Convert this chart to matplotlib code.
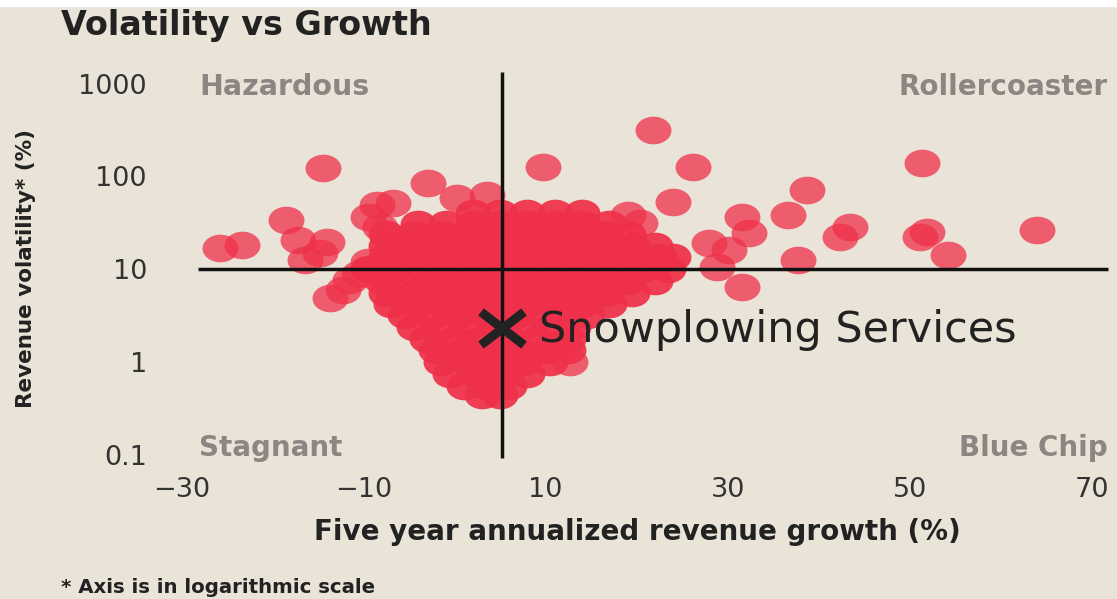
import matplotlib
matplotlib.use('Agg')
import matplotlib.pyplot as plt
from matplotlib.path import Path
from matplotlib.ticker import NullLocator

# scattered companies (growth %, volatility %)
outlier_growth = [-25.8, -23.4, -14.5, -18.5, -17.2, -14.0, -16.4, -14.8, -13.7, -12.3,
                  -11.5, -2.9, -8.5, -6.8, 0.3, 3.6, -8.2, -9.5, -10.5, -9.5,
                  9.7, 21.8, 26.2, 24.0, 20.4, 19.0, 12.7,
                  31.6, 32.4, 28.0, 30.2, 28.8, 31.6, 38.7, 36.6, 43.4, 42.3, 37.7,
                  51.4, 51.9, 51.1, 54.2, 64.0]
outlier_vol = [17.0, 18.3, 123, 34, 20.7, 19.7, 12.6, 15.0, 4.9, 6.0,
               7.7, 85, 49, 52, 59, 63, 28.6, 36.6, 9.0, 12.0,
               127, 317, 127, 53, 31.5, 38.5, 1.0,
               36.6, 24.7, 19.2, 16.2, 10.6, 6.5, 72, 38.5, 28.6, 22.3, 12.6,
               140, 25.3, 22.3, 14.3, 26.5]

# dense core of companies, one row per volatility level
core_growth = [2, 5, 8, 11, 14,
               -4, -1, 2, 5, 8, 11, 14, 17,
               -7.5, -4.5, -1.5, 1.5, 4.5, 7.5, 10.5, 13.5, 16.5, 19,
               -7.5, -4.5, -1.5, 1.5, 4.5, 7.5, 10.5, 13.5, 16.5, 19.5, 22,
               -7.5, -4.5, -1.5, 1.5, 4.5, 7.5, 10.5, 13.5, 16.5, 19.5, 22.5, 24,
               -9.5, -6.5, -3.5, -0.5, 2.5, 5.5, 8.5, 11.5, 14.5, 17.5, 20.5, 23.5,
               -8, -5, -2, 1, 4, 7, 10, 13, 16, 19, 22,
               -7.5, -4.5, -1.5, 1.5, 4.5, 7.5, 10.5, 13.5, 16.5, 19.5,
               -7, -4, -1, 2, 5, 8, 11, 14, 17,
               -5.5, -2.5, 0.5, 3.5, 6.5, 9.5, 12.5, 14.5,
               -4.5, -1.5, 1.5, 4.5, 7.5, 10.5, 13,
               -3, 0, 3, 6, 9, 12.5,
               -2, 1, 4, 7, 10, 12.5,
               -1.5, 1.5, 4.5, 7.5, 10.5,
               -0.5, 2.5, 5.5, 8,
               1, 3.5, 6,
               3, 5]
core_vol = [40]*5 + [31]*8 + [24]*10 + [18]*11 + [13.5]*12 + [10]*12 + [7.5]*11 \
    + [5.6]*10 + [4.2]*9 + [3.2]*8 + [2.4]*7 + [1.8]*6 + [1.35]*6 + [1.0]*5 \
    + [0.75]*4 + [0.56]*3 + [0.45]*2

median_growth = 5.2
median_vol = 10
snow_growth = 5.2
snow_vol = 2.34

xticks = [-30, -10, 10, 30, 50, 70]
xtick_labels = ['\u221230', '\u221210', '10', '30', '50', '70']
yticks = [0.1, 1, 10, 100, 1000]
ytick_labels = ['0.1', '1', '10', '100', '1000']

bg = '#E9E4D7'
red = '#F0304A'
W, H = 1117, 599

def fx(px):
    return px / W

def fy(py):
    return 1 - py / H

plt.rcParams['font.family'] = ['DejaVu Sans']

fig = plt.figure(figsize=(W/100, H/100), dpi=100, facecolor=bg)
fig.patches.append(plt.Rectangle((0, fy(6)), 1, 6/H, transform=fig.transFigure,
                                 color='white', zorder=0))
ax = fig.add_axes([0.15443, 0.22504, 0.84324, 0.66277])
ax.set_facecolor('none')
ax.set_yscale('log')
ax.set_xlim(-31, 72.5)
ax.set_ylim(0.08, 1500)

#slightly wide circles, like the source picture
circ = Path.unit_circle()
ell = Path(circ.vertices * [1.3, 1.0], circ.codes)
ax.scatter(core_growth, core_vol, s=670, marker=ell, color=red, alpha=0.93,
           linewidths=0, zorder=2)
ax.scatter(outlier_growth, outlier_vol, s=670, marker=ell, color=red, alpha=0.75,
           linewidths=0, zorder=2)

ax.hlines(median_vol, -28.2, 71.8, color='#111111', lw=2.5, zorder=3)
ax.vlines(median_growth, 0.093, 1330, color='#111111', lw=2.5, zorder=3)

xmark = Path([(-1.3, -1), (1.3, 1), (-1.3, 1), (1.3, -1)],
             [Path.MOVETO, Path.LINETO, Path.MOVETO, Path.LINETO])
ax.plot([snow_growth], [snow_vol], marker=xmark, ms=31, mew=6.5,
        mec='#222222', ls='none', zorder=4)
ax.text(9.3, 1.65, 'Snowplowing Services', fontsize=31, color='#222222',
        va='baseline', ha='left', zorder=5)

ax.set_xticks(xticks)
ax.set_xticklabels(xtick_labels)
ax.set_yticks(yticks)
ax.set_yticklabels(ytick_labels)
ax.yaxis.set_minor_locator(NullLocator())
ax.tick_params(axis='both', length=0, labelsize=19.5, labelcolor='#333333')
ax.tick_params(axis='y', pad=18.4)
ax.tick_params(axis='x', pad=9)
for s in ax.spines.values():
    s.set_visible(False)

# quadrant names
gray = '#8C8581'
fig.text(fx(199), fy(95), 'Hazardous', fontsize=20.5, fontweight='bold', color=gray, va='baseline')
fig.text(fx(1108), fy(95), 'Rollercoaster', fontsize=20, fontweight='bold', color=gray,
         va='baseline', ha='right')
fig.text(fx(199), fy(456), 'Stagnant', fontsize=20, fontweight='bold', color=gray, va='baseline')
fig.text(fx(1108), fy(456), 'Blue Chip', fontsize=20, fontweight='bold', color=gray,
         va='baseline', ha='right')

fig.text(fx(61), fy(35), 'Volatility vs Growth', fontsize=24, fontweight='bold',
         color='#222222', va='baseline')
fig.text(fx(637), fy(540), 'Five year annualized revenue growth (%)', fontsize=20,
         fontweight='bold', color='#222222', va='baseline', ha='center')
fig.text(fx(26), fy(269), 'Revenue volatility* (%)', fontsize=15.5, fontweight='bold',
         color='#222222', rotation=90, va='center', ha='center')
fig.text(fx(61), fy(593), '* Axis is in logarithmic scale', fontsize=14.2,
         fontweight='bold', color='#222222', va='baseline')

plt.savefig('out.png', dpi=100, facecolor=bg)
